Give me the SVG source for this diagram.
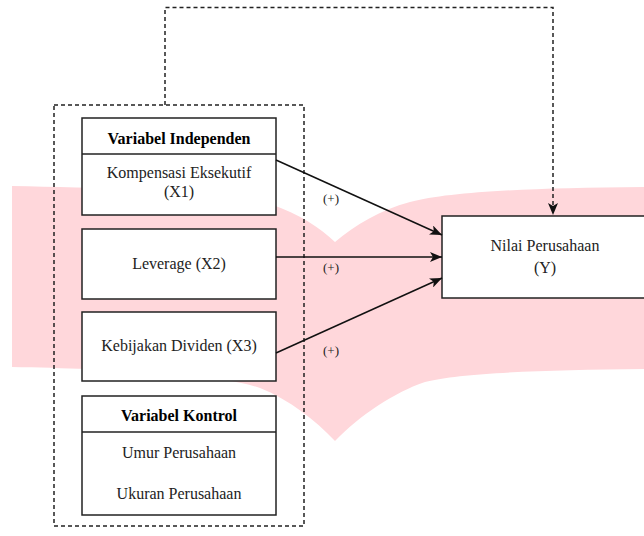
<svg xmlns="http://www.w3.org/2000/svg" width="644" height="536" viewBox="0 0 644 536">
<style>
.box{fill:#fff;stroke:#222;stroke-width:1.5}
.dash{fill:none;stroke:#222;stroke-width:1.5;stroke-dasharray:4 3}
.t{font-family:"Liberation Serif","Times New Roman",serif;font-size:16px;fill:#222;text-anchor:middle}
.b{font-weight:bold;fill:#000}
.s{font-size:13px}
.edge{fill:none;stroke:#111;stroke-width:1.5}
</style>
<defs>
<marker id="arr" viewBox="0 0 12 10" refX="12" refY="5" markerWidth="12" markerHeight="10" markerUnits="userSpaceOnUse" orient="auto">
<path d="M0,0 L12,5 L0,10 L3,5 Z" fill="#111" stroke="none"/>
</marker>
</defs>
<rect x="0" y="0" width="644" height="536" fill="#fff"/>
<path d="M12,186 C100,188 220,189 270,204 C300,214 320,228 335,242 C355,225 380,210 410,202 C450,192 520,188 644,187 L644,369 C540,370 460,373 425,382 C395,392 360,415 335,441 C315,420 290,400 260,388 C220,374 120,369 12,367 Z" fill="#ffd7db"/>
<g id="outer-group">
<rect class="dash" x="54" y="105" width="250" height="421"/>
</g>
<g id="variabel-independen">
<rect class="box" x="82" y="118" width="194" height="97"/>
<line x1="82" y1="154" x2="276" y2="154" stroke="#222" stroke-width="1.5"/>
<text class="t b" x="179" y="144">Variabel Independen</text>
<text class="t" x="179" y="178">Kompensasi Eksekutif</text>
<text class="t" x="179" y="197">(X1)</text>
</g>
<g id="leverage">
<rect class="box" x="82" y="229" width="194" height="70"/>
<text class="t" x="179" y="269">Leverage (X2)</text>
</g>
<g id="kebijakan-dividen">
<rect class="box" x="82" y="312" width="194" height="69"/>
<text class="t" x="179" y="351">Kebijakan Dividen (X3)</text>
</g>
<g id="variabel-kontrol">
<rect class="box" x="82" y="396" width="194" height="119"/>
<line x1="82" y1="432" x2="276" y2="432" stroke="#222" stroke-width="1.5"/>
<text class="t b" x="179" y="421">Variabel Kontrol</text>
<text class="t" x="179" y="458">Umur Perusahaan</text>
<text class="t" x="179" y="499">Ukuran Perusahaan</text>
</g>
<g id="nilai-perusahaan">
<rect class="box" x="442" y="216" width="206" height="82"/>
<text class="t" x="545" y="251">Nilai Perusahaan</text>
<text class="t" x="545" y="273">(Y)</text>
</g>
<g id="connectors">
<path class="edge" d="M276,160 L442,235" marker-end="url(#arr)"/>
<path class="edge" d="M276,257 L442,257" marker-end="url(#arr)"/>
<path class="edge" d="M276,353 L442,278" marker-end="url(#arr)"/>
<path class="dash" d="M165,105 L165,7.5 L553,7.5 L553,215" marker-end="url(#arr)"/>
<text class="t s" x="331" y="202.5">(+)</text>
<text class="t s" x="331" y="271.5">(+)</text>
<text class="t s" x="331" y="354.5">(+)</text>
</g>
</svg>
